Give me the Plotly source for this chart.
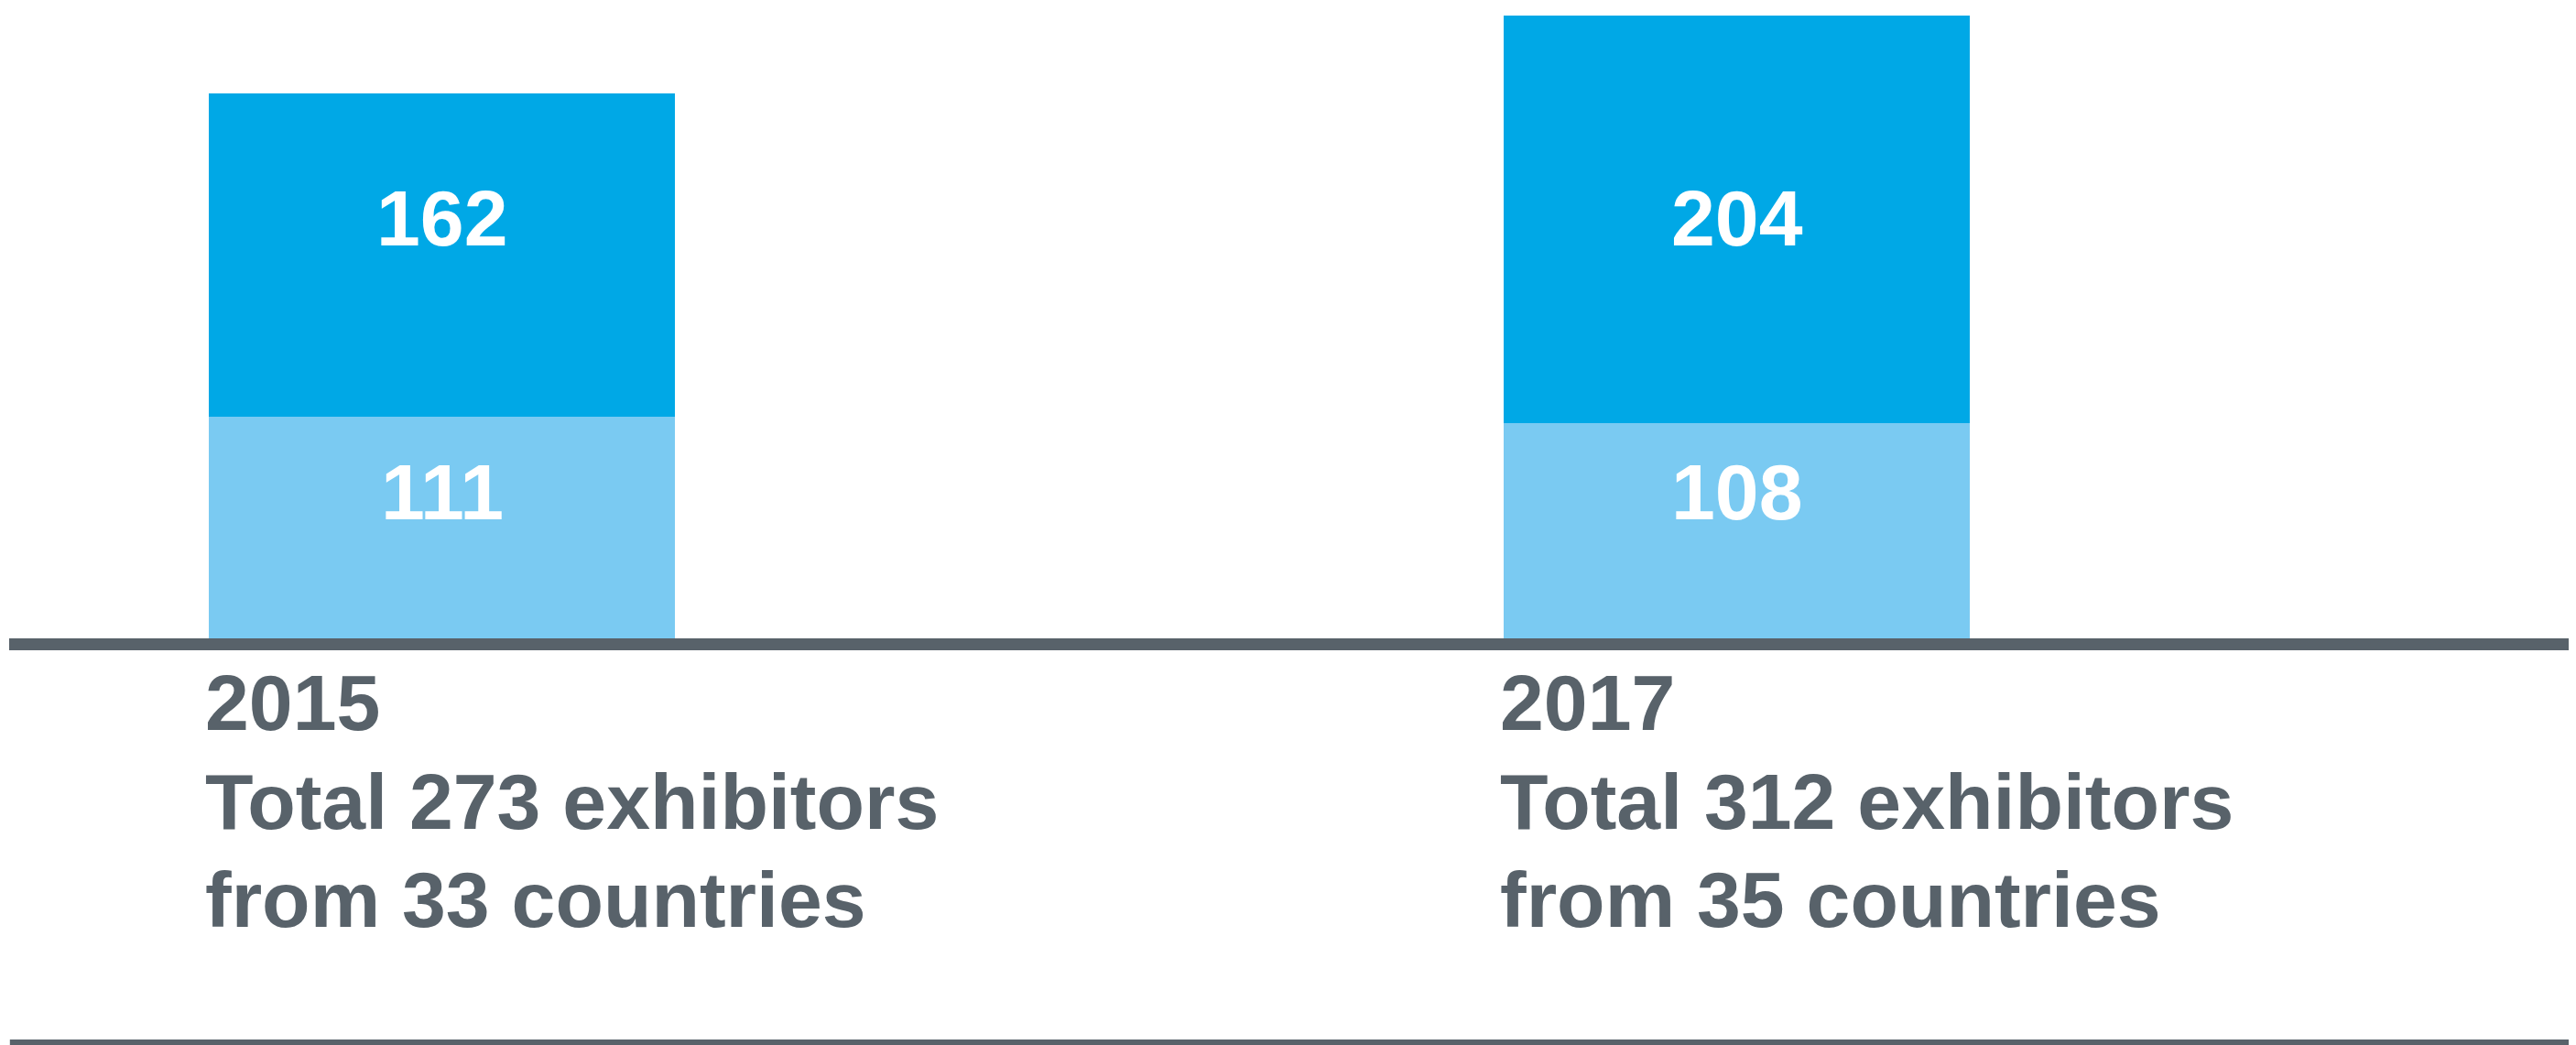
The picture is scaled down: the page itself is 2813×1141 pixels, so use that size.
import plotly.graph_objects as go

# ---- data ----
years = ["2015", "2017"]
lower_values = [111, 108]
upper_values = [162, 204]
totals = [273, 312]
countries = [33, 35]

# ---- style ----
W, H = 2813, 1141
DARK = "#00A8E6"
LIGHT = "#7ACAF2"
GREY = "#58626A"
FONT = "Liberation Sans, Arial, Helvetica, sans-serif"
FS = 86
BAR_W = 0.36

fig = go.Figure()
fig.add_bar(x=years, y=lower_values, width=BAR_W, marker=dict(color=LIGHT, line=dict(width=0)),
            hoverinfo="skip")
fig.add_bar(x=years, y=upper_values, width=BAR_W, marker=dict(color=DARK, line=dict(width=0)),
            hoverinfo="skip")

ann = []
for i, y in enumerate(years):
    # value labels in bars
    ann.append(dict(x=i, y=0.798, xref="x", yref="paper", text=str(upper_values[i]),
                    showarrow=False, xanchor="center", yanchor="middle",
                    font=dict(family=FONT, size=FS, color="white", weight="bold")))
    ann.append(dict(x=i, y=0.536, xref="x", yref="paper", text=str(lower_values[i]),
                    showarrow=False, xanchor="center", yanchor="middle",
                    font=dict(family=FONT, size=FS, color="white", weight="bold")))
    # caption below axis line
    lines = [y, f"Total {totals[i]} exhibitors", f"from {countries[i]} countries"]
    ys = [0.3350, 0.2405, 0.1465]
    for t, yy in zip(lines, ys):
        ann.append(dict(x=i - BAR_W / 2 - 0.004, y=yy, xref="x", yref="paper", text=t,
                        showarrow=False, xanchor="left", yanchor="middle", align="left",
                        font=dict(family=FONT, size=FS, color=GREY, weight="bold")))

shapes = [
    dict(type="rect", xref="paper", yref="y", x0=0.0007, x1=1, y0=-6, y1=0,
         fillcolor=GREY, line=dict(width=0), layer="above"),
    dict(type="rect", xref="paper", yref="paper", x0=0.001, x1=1, y0=0, y1=0.0123,
         fillcolor=GREY, line=dict(width=0), layer="above"),
]

fig.update_layout(
    width=W, height=H, barmode="stack", bargap=0,
    margin=dict(l=0, r=0, t=0, b=0),
    paper_bgcolor="white", plot_bgcolor="white",
    showlegend=False,
    xaxis=dict(type="category", range=[-0.3356, 1.6538], visible=False, fixedrange=True),
    yaxis=dict(range=[-207.5, 316.35], visible=False, fixedrange=True),
    annotations=ann, shapes=shapes,
)

fig.write_html("out.html", config={"displayModeBar": False})
